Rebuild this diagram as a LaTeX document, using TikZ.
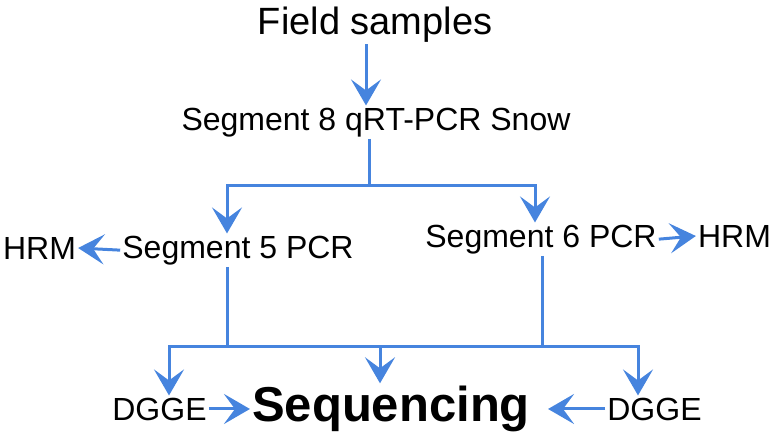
\documentclass[tikz,border=0pt]{standalone}
\usepackage{fontspec}
\setmainfont{Liberation Sans}
\usetikzlibrary{arrows.meta}
\definecolor{flowblue}{RGB}{70,132,222}

\begin{document}
\begin{tikzpicture}[x=1pt, y=-1pt,
    flow/.style={draw=flowblue, line width=3pt},
    tip/.style={-{Stealth[length=26pt, width=30pt, inset=11pt]}}]
    \useasboundingbox (0,0) rectangle (776,437);
    \path[every node/.style={anchor=base, inner sep=2pt, font=\fontsize{32}{38}\selectfont}]
        (375, 34) node[font=\fontsize{38}{46}\selectfont] (field){Field samples}
        (376, 130) node (seg8){Segment 8 qRT-PCR Snow}
        (238, 258) node (seg5){Segment 5 PCR}
        (541, 247) node (seg6){Segment 6 PCR}
        (39.5, 259) node (hrm5){HRM}
        (734.5, 247) node (hrm6){HRM}
        (159.5, 420) node (dgge5){DGGE}
        (654.5, 420) node (dgge6){DGGE}
        (391, 421) node[font=\fontsize{49}{58}\selectfont\bfseries] (seq){Sequencing};
    \coordinate (top) at (369, 185);
    \coordinate (topL) at (227, 185);
    \coordinate (topR) at (535, 185);
    \coordinate (bot5) at (227, 346);
    \coordinate (bot6) at (542, 346);
    \coordinate (botL) at (169, 346);
    \coordinate (botM) at (380, 346);
    \coordinate (botR) at (638, 346);
    \begin{scope}[flow]
        \draw[tip] ([xshift=-9pt]field.south) -- ([xshift=-9pt]field.south |- seg8.north);
        \draw (seg8.south -| top) -- (top);
        \draw[tip] (top) -| (topL |- seg5.north);
        \draw[tip] (top) -| (topR |- seg6.north);
        \draw[tip] (seg5.west) -- (hrm5.east);
        \draw[tip] (seg6.east) -- (hrm6.west);
        \draw[tip] (seg5.south -| bot5) |- (botL) -- (botL |- dgge5.north);
        \draw[tip] (seg6.south -| bot6) |- (botR) -- (botR |- dgge6.north);
        \draw (bot5) -- (bot6);
        \draw[tip] (botM) -- (botM |- seq.north);
        \draw[tip] (dgge5.east) -- (dgge5.east -| seq.west);
        \draw[tip] (dgge6.west) -- ([xshift=16pt]dgge6.west -| seq.east);
    \end{scope}
\end{tikzpicture}
\end{document}
